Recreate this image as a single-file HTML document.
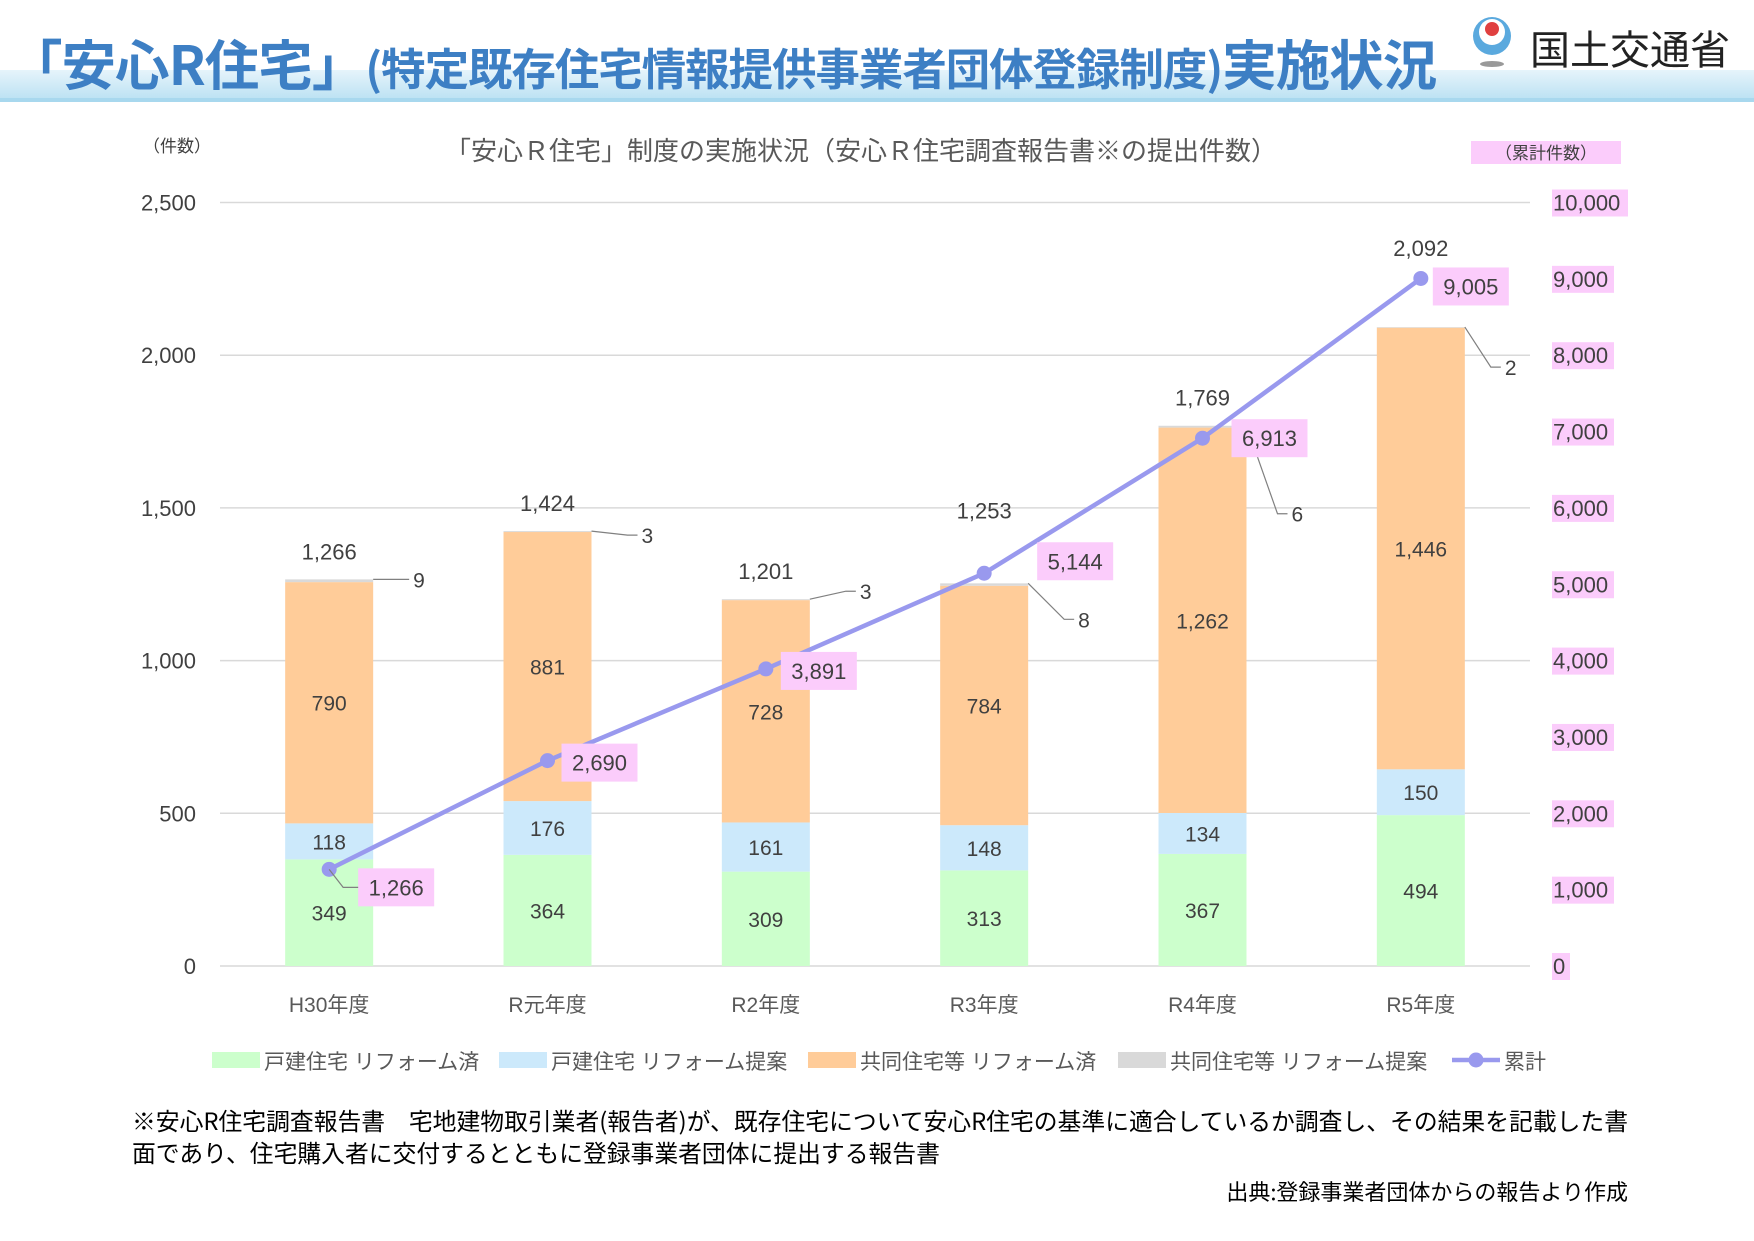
<!DOCTYPE html>
<html><head><meta charset="utf-8">
<style>
html,body{margin:0;padding:0;background:#fff;}
body{width:1754px;height:1241px;position:relative;overflow:hidden;font-family:"Liberation Sans","Noto Sans CJK JP",sans-serif;}
.abs{position:absolute;white-space:nowrap;}
</style></head>
<body>
<div class="abs" style="left:0;top:70px;width:1754px;height:32px;background:linear-gradient(#e6f4fb,#b8e0f2);"></div>
<div class="abs" style="left:0;top:98px;width:1754px;height:4px;background:#a8d8ee;"></div>
<div class="abs" style="left:8px;top:22px;font-size:54px;font-weight:bold;color:#3d7fc4;font-family:'Noto Sans CJK JP',sans-serif;letter-spacing:-1px;transform:scaleX(1.01);transform-origin:left top;">「安心R住宅」<span style="font-size:44px;">(特定既存住宅情報提供事業者団体登録制度)</span>実施状況</div>
<svg class="abs" style="left:1462px;top:14px" width="60" height="56" viewBox="0 0 60 56">
<circle cx="30" cy="22" r="19" fill="#5aa9de"/><circle cx="30" cy="18" r="13" fill="#fff"/><circle cx="30" cy="15" r="7" fill="#e04040"/>
<ellipse cx="30" cy="50" rx="12" ry="3" fill="#999"/></svg>
<div class="abs" style="left:1530px;top:18px;font-size:40px;color:#222;font-family:'Noto Sans CJK JP',sans-serif;">国土交通省</div>

<svg class="abs" id="chart" style="left:0;top:0" width="1754" height="1241"></svg>

<div class="abs" style="left:132px;top:1104px;font-size:23.8px;line-height:32px;color:#000;font-family:'Noto Sans CJK JP',sans-serif;">※安心R住宅調査報告書　宅地建物取引業者(報告者)が、既存住宅について安心R住宅の基準に適合しているか調査し、その結果を記載した書<br>面であり、住宅購入者に交付するとともに登録事業者団体に提出する報告書</div>
<div class="abs" style="right:126px;top:1175px;font-size:22px;color:#000;font-family:'Noto Sans CJK JP',sans-serif;">出典:登録事業者団体からの報告より作成</div>

<script>
const categories=["H30年度","R元年度","R2年度","R3年度","R4年度","R5年度"];
const detachedDone=[349,364,309,313,367,494];
const detachedProposal=[118,176,161,148,134,150];
const condoDone=[790,881,728,784,1262,1446];
const condoProposal=[9,3,3,8,6,2];
const cumulative=[1266,2690,3891,5144,6913,9005];
const leftTicks=[0,500,1000,1500,2000,2500];
const rightTicks=[0,1000,2000,3000,4000,5000,6000,7000,8000,9000,10000];

const NS="http://www.w3.org/2000/svg";
const svg=document.getElementById('chart');
const X0=220,X1=1530,Y0=966,Y1=202.5,LMAX=2500,RMAX=10000;
const band=(X1-X0)/categories.length, bw=88;
const xC=i=>X0+band*(i+0.5);
const yL=v=>Y0-v/LMAX*(Y0-Y1);
const yR=v=>Y0-v/RMAX*(Y0-Y1);
const fmt=v=>v.toLocaleString('en-US');
function mk(tag,attrs,parent){const e=document.createElementNS(NS,tag);for(const k in attrs)e.setAttribute(k,attrs[k]);(parent||svg).appendChild(e);return e;}
function txt(x,y,s,attrs){const t=mk('text',Object.assign({x:x,y:y,'font-size':22,fill:'#404040','font-family':'Liberation Sans, Noto Sans CJK JP, sans-serif'},attrs||{}));t.textContent=s;return t;}

let t=txt(861,160,"「安心Ｒ住宅」制度の実施状況（安心Ｒ住宅調査報告書※の提出件数）",{'text-anchor':'middle','font-size':26,fill:'#595959'});

t=txt(177,152,"（件数）",{'text-anchor':'middle','font-size':17,fill:'#404040'});

let r=mk('rect',{x:1471,y:141,width:150,height:23,fill:'#fbccfb'});

t=txt(1546,159,"（累計件数）",{'text-anchor':'middle','font-size':17,fill:'#404040'});


leftTicks.forEach(v=>{
  const g=mk('line',{x1:X0,x2:X1,y1:yL(v),y2:yL(v),stroke:'#d9d9d9','stroke-width':1.5});
  
  const l=txt(196,yL(v)+8,fmt(v),{'text-anchor':'end','font-size':22,fill:'#404040'});
  
});
rightTicks.forEach(v=>{
  const w=v>=10000?76:(v>0?62:18);
  const b=mk('rect',{x:1552,y:yR(v)-13,width:w,height:27,fill:'#fbccfb'});
  
  const l=txt(1553,yR(v)+8,fmt(v),{'font-size':22,fill:'#404040'});
  
});

const series=[[detachedDone,'#ccffcc','bar-detached-done'],[detachedProposal,'#cce9fb','bar-detached-proposal'],[condoDone,'#ffcc99','bar-condo-done'],[condoProposal,'#d9d9d9','bar-condo-proposal']];
const grayOff=[[40,0],[50,4],[50,-8],[50,36],[45,88],[40,40]];
const totalLift=[0,0,0,45,0,51];
categories.forEach((c,i)=>{
  let base=0;const cx=xC(i);
  series.forEach(([arr,col,name],si)=>{
    const v=arr[i];
    const rc=mk('rect',{x:cx-bw/2,y:yL(base+v),width:bw,height:yL(base)-yL(base+v),fill:col});
    
    if(si<3){
      const l=txt(cx,(yL(base)+yL(base+v))/2+8,fmt(v),{'text-anchor':'middle','font-size':21});
      
    }else{
      const ty=yL(base+v),tx=cx+bw/2,[dx,dy]=grayOff[i];
      const ln=mk('polyline',{points:`${tx},${ty} ${tx+dx-14},${ty+dy} ${tx+dx-4},${ty+dy}`,fill:'none',stroke:'#808080','stroke-width':1.2});
      
      const l=txt(tx+dx,ty+dy+8,fmt(v),{'font-size':21});
      
    }
    base+=v;
  });
  const tot=txt(cx,yL(base)-20-totalLift[i],fmt(base),{'text-anchor':'middle','font-size':22});
  
  const xl=txt(cx,1012,c,{'text-anchor':'middle','font-size':21,fill:'#595959'});
  
});

const pts=cumulative.map((v,i)=>`${xC(i)},${yR(v)}`).join(' ');
const pl=mk('polyline',{points:pts,fill:'none',stroke:'#9999ee','stroke-width':4.5});

const labOff=[[67,18],[52,2],[53,2],[91,-12],[67,0],[50,8]];
cumulative.forEach((v,i)=>{
  const cx=xC(i),cy=yR(v);
  const p=mk('circle',{cx:cx,cy:cy,r:7.5,fill:'#9999ee'});
  
  const [dx,dy]=labOff[i];
  const s=fmt(v);const w=s.length*12+16;
  const b=mk('rect',{x:cx+dx-w/2,y:cy+dy-19,width:w,height:38,fill:'#fbccfb'});
  
  if(i===0){const ln=mk('polyline',{points:`${cx},${cy} ${cx+14},${cy+18} ${cx+dx-w/2},${cy+18}`,fill:'none',stroke:'#808080','stroke-width':1.2});
    }
  const l=txt(cx+dx,cy+dy+8,s,{'text-anchor':'middle','font-size':22});
  
});

const legend=[['#ccffcc','戸建住宅 リフォーム済',212],['#cce9fb','戸建住宅 リフォーム提案',499],['#ffcc99','共同住宅等 リフォーム済',808],['#d9d9d9','共同住宅等 リフォーム提案',1118]];
legend.forEach(([c,s,x])=>{
  const b=mk('rect',{x:x,y:1052,width:48,height:16,fill:c});
  
  const l=txt(x+52,1069,s,{'font-size':21,fill:'#595959'});
  
});
const ll=mk('line',{x1:1452,x2:1500,y1:1060,y2:1060,stroke:'#9999ee','stroke-width':4.5});

const lc=mk('circle',{cx:1476,cy:1060,r:7.5,fill:'#9999ee'});

const le=txt(1504,1069,'累計',{'font-size':21,fill:'#595959'});

</script>
</body></html>
